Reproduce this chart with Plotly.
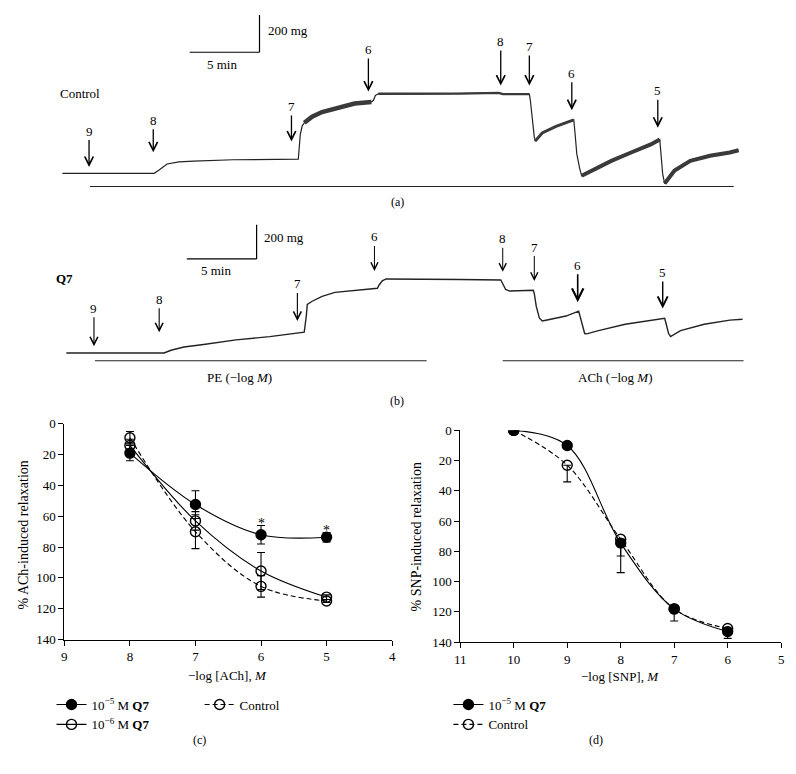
import plotly.graph_objects as go

# Page body has an 8 px margin: figure is drawn 8 px in from the top-left corner.
OFF = 8
W, H = 796 - OFF, 774 - OFF
FONT = "Liberation Serif"

# ---------------- (a) Control tracing: time (min) vs tension (mg) ----------------
a_time = [0, 6.58, 6.93, 7.50, 8.35, 9.41, 12.23, 16.90, 17.04, 17.18, 17.33, 17.89, 18.60, 19.66,
          20.93, 22.14, 22.28, 22.42, 22.63, 25.67, 28.50, 31.26, 31.54, 33.45, 33.52, 33.66, 33.80,
          33.87, 34.37, 35.36, 36.28, 36.63, 36.70, 36.85, 37.06, 37.20, 37.91, 39.32, 40.74, 42.15,
          42.79, 42.86, 43.00, 43.14, 43.85, 44.98, 46.39, 47.81, 48.44]
a_tension = [0, 0, 18, 50, 61, 66, 73, 76, 208, 255, 271, 304, 329, 350,
             375, 383, 392, 418, 427, 426, 428, 432, 425, 425, 392, 287, 197,
             173, 217, 252, 278, 287, 234, 103, 24, -13, 15, 67, 112, 155,
             182, 103, -3, -55, 15, 67, 94, 112, 124]
a_dose_labels = ["9", "8", "7", "6", "8", "7", "6", "5"]
a_dose_time = [1.91, 6.51, 16.41, 21.92, 31.40, 33.45, 36.49, 42.65]
a_dose_tension = [34, 113, 171, 439, 471, 471, 339, 245]
a_exposure = [1.98, 48.09]

# ---------------- (b) Q7 tracing ----------------
b_time = [0, 7.00, 7.50, 8.42, 9.83, 12.16, 14.57, 16.90, 17.04, 17.19, 17.26, 17.61, 18.32, 19.24,
          20.44, 22.28, 22.42, 22.63, 22.91, 25.39, 28.22, 31.12, 31.26, 31.47, 31.75, 33.45, 33.52,
          33.66, 33.88, 34.09, 34.44, 35.79, 36.70, 36.85, 36.99, 37.13, 37.27, 38.12, 40.03, 42.15,
          42.86, 43.00, 43.14, 43.28, 44.00, 45.69, 47.53, 48.44]
b_tension = [0, 0, 16, 35, 50, 77, 96, 118, 122, 217, 285, 304, 333, 356,
             367, 380, 401, 424, 435, 435, 432, 429, 408, 373, 364, 369, 349,
             275, 206, 188, 194, 217, 246, 200, 142, 114, 112, 131, 169, 198,
             204, 160, 114, 96, 131, 169, 193, 198]
b_dose_labels = ["9", "8", "7", "6", "8", "7", "6", "5"]
b_dose_time = [1.98, 6.65, 16.55, 22.07, 31.26, 33.52, 36.63, 42.72]
b_dose_tension = [39, 121, 188, 482, 477, 423, 298, 261]
b_pe_period = [2.05, 25.81]
b_ach_period = [31.26, 48.51]

scale_minutes = 5
scale_mg = 200

# ---------------- (c) ACh concentration-response ----------------
c_logach = [8, 7, 6, 5]
c_q7_1e5 = [19, 52.4, 72, 73.6]
c_q7_1e5_sem = [5, 9, 6, 3]
c_q7_1e6 = [14, 63, 95.5, 112.5]
c_q7_1e6_sem = [4, 6, 12, 1.5]
c_control = [9, 70, 105.5, 115]
c_control_sem = [4, 11, 7, 1]
c_signif_x = [6, 5]

# ---------------- (d) SNP concentration-response ----------------
d_logsnp = [10, 9, 8, 7, 6]
d_q7_1e5 = [0, 10, 74.5, 118, 133]
d_q7_1e5_sem = [0, 0, 19.5, 8, 4.5]
d_control = [0, 23, 72, 118, 131]
d_control_sem = [0, 11, 11, 0, 0]


def pxx(p):
    return (p - OFF) / W


def pxy(p):
    return 1 - (p - OFF) / H


fig = go.Figure()
INK = "#222222"
NOISE = "#3a3a3a"


def add_tracing(t, v, xa, ya, base_w, bands):
    fig.add_trace(go.Scatter(x=t, y=v, mode="lines", line=dict(color=INK, width=base_w),
                             xaxis=xa, yaxis=ya, showlegend=False, hoverinfo="skip"))
    for t0, t1, w in bands:
        xs = [a for a in t if t0 <= a <= t1]
        ys = [b for a, b in zip(t, v) if t0 <= a <= t1]
        fig.add_trace(go.Scatter(x=xs, y=ys, mode="lines", line=dict(color=NOISE, width=w),
                                 xaxis=xa, yaxis=ya, showlegend=False, hoverinfo="skip"))


add_tracing(a_time, a_tension, "x", "y", 1.2,
            [(17.33, 22.14, 4.5), (22.63, 33.45, 2.4), (33.87, 36.63, 3.0),
             (37.20, 42.79, 4.0), (43.14, 48.44, 4.0)])
add_tracing(b_time, b_tension, "x2", "y2", 1.4, [])


def curve(x, y, err, name, filled, dash, xa, ya, leg, symmetric=True):
    ed = dict(type="data", array=err, color="black", thickness=1.1, width=4)
    if not symmetric:
        ed.update(symmetric=False, arrayminus=[0] * len(err))
    fig.add_trace(go.Scatter(
        x=x, y=y, mode="lines+markers", name=name,
        line=dict(color="black", width=1.1, shape="spline", smoothing=1.0, dash=dash),
        marker=dict(symbol="circle" if filled else "circle-open", size=10, color="black",
                    line=dict(width=1.4, color="black")),
        error_y=ed, xaxis=xa, yaxis=ya, legend=leg, hoverinfo="skip"))


# (c)
curve(c_logach, c_control, c_control_sem, "Control", False, "5px,3px", "x3", "y3", "legend2")
curve(c_logach, c_q7_1e6, c_q7_1e6_sem, "10<sup>−6</sup> M <b>Q7</b>", False, "solid", "x3", "y3", "legend")
curve(c_logach, c_q7_1e5, c_q7_1e5_sem, "10<sup>−5</sup> M <b>Q7</b>", True, "solid", "x3", "y3", "legend")
# (d)
curve(d_logsnp, d_q7_1e5, d_q7_1e5_sem, "10<sup>−5</sup> M <b>Q7</b>", True, "solid", "x4", "y4", "legend3", symmetric=False)
curve(d_logsnp, d_control, d_control_sem, "Control", False, "5px,3px", "x4", "y4", "legend3", symmetric=False)

# hidden axes for tracings: 14.14 px per min, 200 mg per 38 px (a) / 34.7 px (b)
a_xr = [(OFF - 57) / 14.14, (796 - 57) / 14.14]
a_yr = [(169.5 - 205) * 5.263, (169.5 - OFF) * 5.263]
b_xr = [(OFF - 61) / 14.14, (796 - 61) / 14.14]
b_yr = [(352.7 - 410) * 5.764, (352.7 - 210) * 5.764]

hidden = dict(visible=False, showgrid=False, zeroline=False, fixedrange=True)
tick_font = dict(family=FONT, size=13, color="black")
axis_common = dict(showline=True, linecolor="black", linewidth=1, ticks="outside", ticklen=5,
                   tickwidth=1, tickcolor="black", showgrid=False, zeroline=False,
                   tickfont=tick_font, fixedrange=True)

fig.update_layout(
    width=W, height=H, margin=dict(l=0, r=0, t=0, b=0),
    paper_bgcolor="white", plot_bgcolor="white",
    xaxis=dict(domain=[0, 1], range=a_xr, anchor="y", **hidden),
    yaxis=dict(domain=[pxy(205), 1], range=a_yr, anchor="x", **hidden),
    xaxis2=dict(domain=[0, 1], range=b_xr, anchor="y2", **hidden),
    yaxis2=dict(domain=[pxy(410), pxy(210)], range=b_yr, anchor="x2", **hidden),
    xaxis3=dict(domain=[pxx(59), pxx(391)], range=[9, 4], tickvals=[9, 8, 7, 6, 5, 4],
                anchor="y3", **axis_common),
    yaxis3=dict(domain=[pxy(645), pxy(425)], range=[140, 0], tickvals=list(range(0, 141, 20)),
                anchor="x3", **axis_common),
    xaxis4=dict(domain=[pxx(460), pxx(785)], range=[11, 5], tickvals=[11, 10, 9, 8, 7, 6, 5],
                anchor="y4", **axis_common),
    yaxis4=dict(domain=[pxy(647.7), pxy(431.7)], range=[140, 0], tickvals=list(range(0, 141, 20)),
                anchor="x4", **axis_common),
    showlegend=True,
)

leg_font = dict(family=FONT, size=13, color="black")
leg_common = dict(xanchor="left", yanchor="top", font=leg_font, bgcolor="rgba(0,0,0,0)",
                  traceorder="reversed", itemwidth=30, tracegroupgap=0)
fig.update_layout(
    legend=dict(x=pxx(46), y=pxy(696), **leg_common),
    legend2=dict(x=pxx(196), y=pxy(696), **leg_common),
    legend3=dict(x=pxx(448), y=pxy(696), **{**leg_common, "traceorder": "normal"}),
)

ann = []
shapes = []


def text(px, py, s, size=13, xanchor="center", angle=0):
    ann.append(dict(x=pxx(px), y=pxy(py), xref="paper", yref="paper", text=s, showarrow=False,
                    xanchor=xanchor, yanchor="middle", textangle=angle,
                    font=dict(family=FONT, size=size, color="black")))


# dose arrows (a)
a_ay = [-36, -32, -35, -42, -44, -39, -37, -37]
for lab, t, v, ay in zip(a_dose_labels, a_dose_time, a_dose_tension, a_ay):
    ann.append(dict(x=t, y=v, xref="x", yref="y", text=lab, showarrow=True, arrowhead=5,
                    arrowsize=1.3, arrowwidth=1.3, arrowcolor="black", ax=0, ay=ay,
                    font=dict(family=FONT, size=13, color="black")))
# dose arrows (b)
b_ay = [-38, -33, -37, -34, -33, -34, -37, -36]
b_w = [1.1, 1.1, 1.1, 1.0, 1.0, 1.0, 1.6, 1.4]
for lab, t, v, ay, w in zip(b_dose_labels, b_dose_time, b_dose_tension, b_ay, b_w):
    ann.append(dict(x=t, y=v, xref="x2", yref="y2", text=lab, showarrow=True, arrowhead=5,
                    arrowsize=1.4, arrowwidth=w, arrowcolor="black", ax=0, ay=ay,
                    font=dict(family=FONT, size=13, color="black")))


def scalebar(xr, yr, t0, v0):
    shapes.append(dict(type="line", xref=xr, yref=yr, x0=t0, x1=t0 + scale_minutes, y0=v0, y1=v0,
                       line=dict(color="black", width=1.2)))
    shapes.append(dict(type="line", xref=xr, yref=yr, x0=t0 + scale_minutes, x1=t0 + scale_minutes,
                       y0=v0, y1=v0 + scale_mg, line=dict(color="black", width=1.2)))


scalebar("x", "y", 9.12, 650)
scalebar("x2", "y2", 8.63, 553)

shapes.append(dict(type="line", xref="x", yref="y", x0=a_exposure[0], x1=a_exposure[1], y0=-71, y1=-71,
                   line=dict(color=INK, width=1.1)))
for per in (b_pe_period, b_ach_period):
    shapes.append(dict(type="line", xref="x2", yref="y2", x0=per[0], x1=per[1], y0=-46, y1=-46,
                       line=dict(color=INK, width=1.1)))

text(263, 24, f"{scale_mg} mg", xanchor="left")
text(219, 58, f"{scale_minutes} min")
text(259, 235, f"{scale_mg} mg", xanchor="left")
text(213, 269, f"{scale_minutes} min")
text(53, 88, "Control", xanchor="left")
text(49, 277, "<b>Q7</b>", xanchor="left")
text(396, 199, "(a)", size=12)
text(236, 378, "PE (−log <i>M</i>)")
text(617, 378, "ACh (−log <i>M</i>)")
text(396, 402, "(b)", size=12)

# (c) labels
text(18, 538, "% ACh-induced relaxation", size=14, angle=-90)
text(224, 682, "−log [ACh], <i>M</i>", size=13)
text(196, 747, "(c)", size=12)
for xv in c_signif_x:
    idx = c_logach.index(xv)
    ann.append(dict(x=xv, y=c_q7_1e5[idx] - c_q7_1e5_sem[idx], xref="x3", yref="y3", text="*",
                    showarrow=False, yanchor="bottom", yshift=-7,
                    font=dict(family=FONT, size=14, color="black")))

# (d) labels
text(416, 540, "% SNP-induced relaxation", size=14, angle=-90)
text(622, 683, "−log [SNP], <i>M</i>", size=13)
text(597, 747, "(d)", size=12)

fig.update_layout(annotations=ann, shapes=shapes)
fig.write_html("out.html")
